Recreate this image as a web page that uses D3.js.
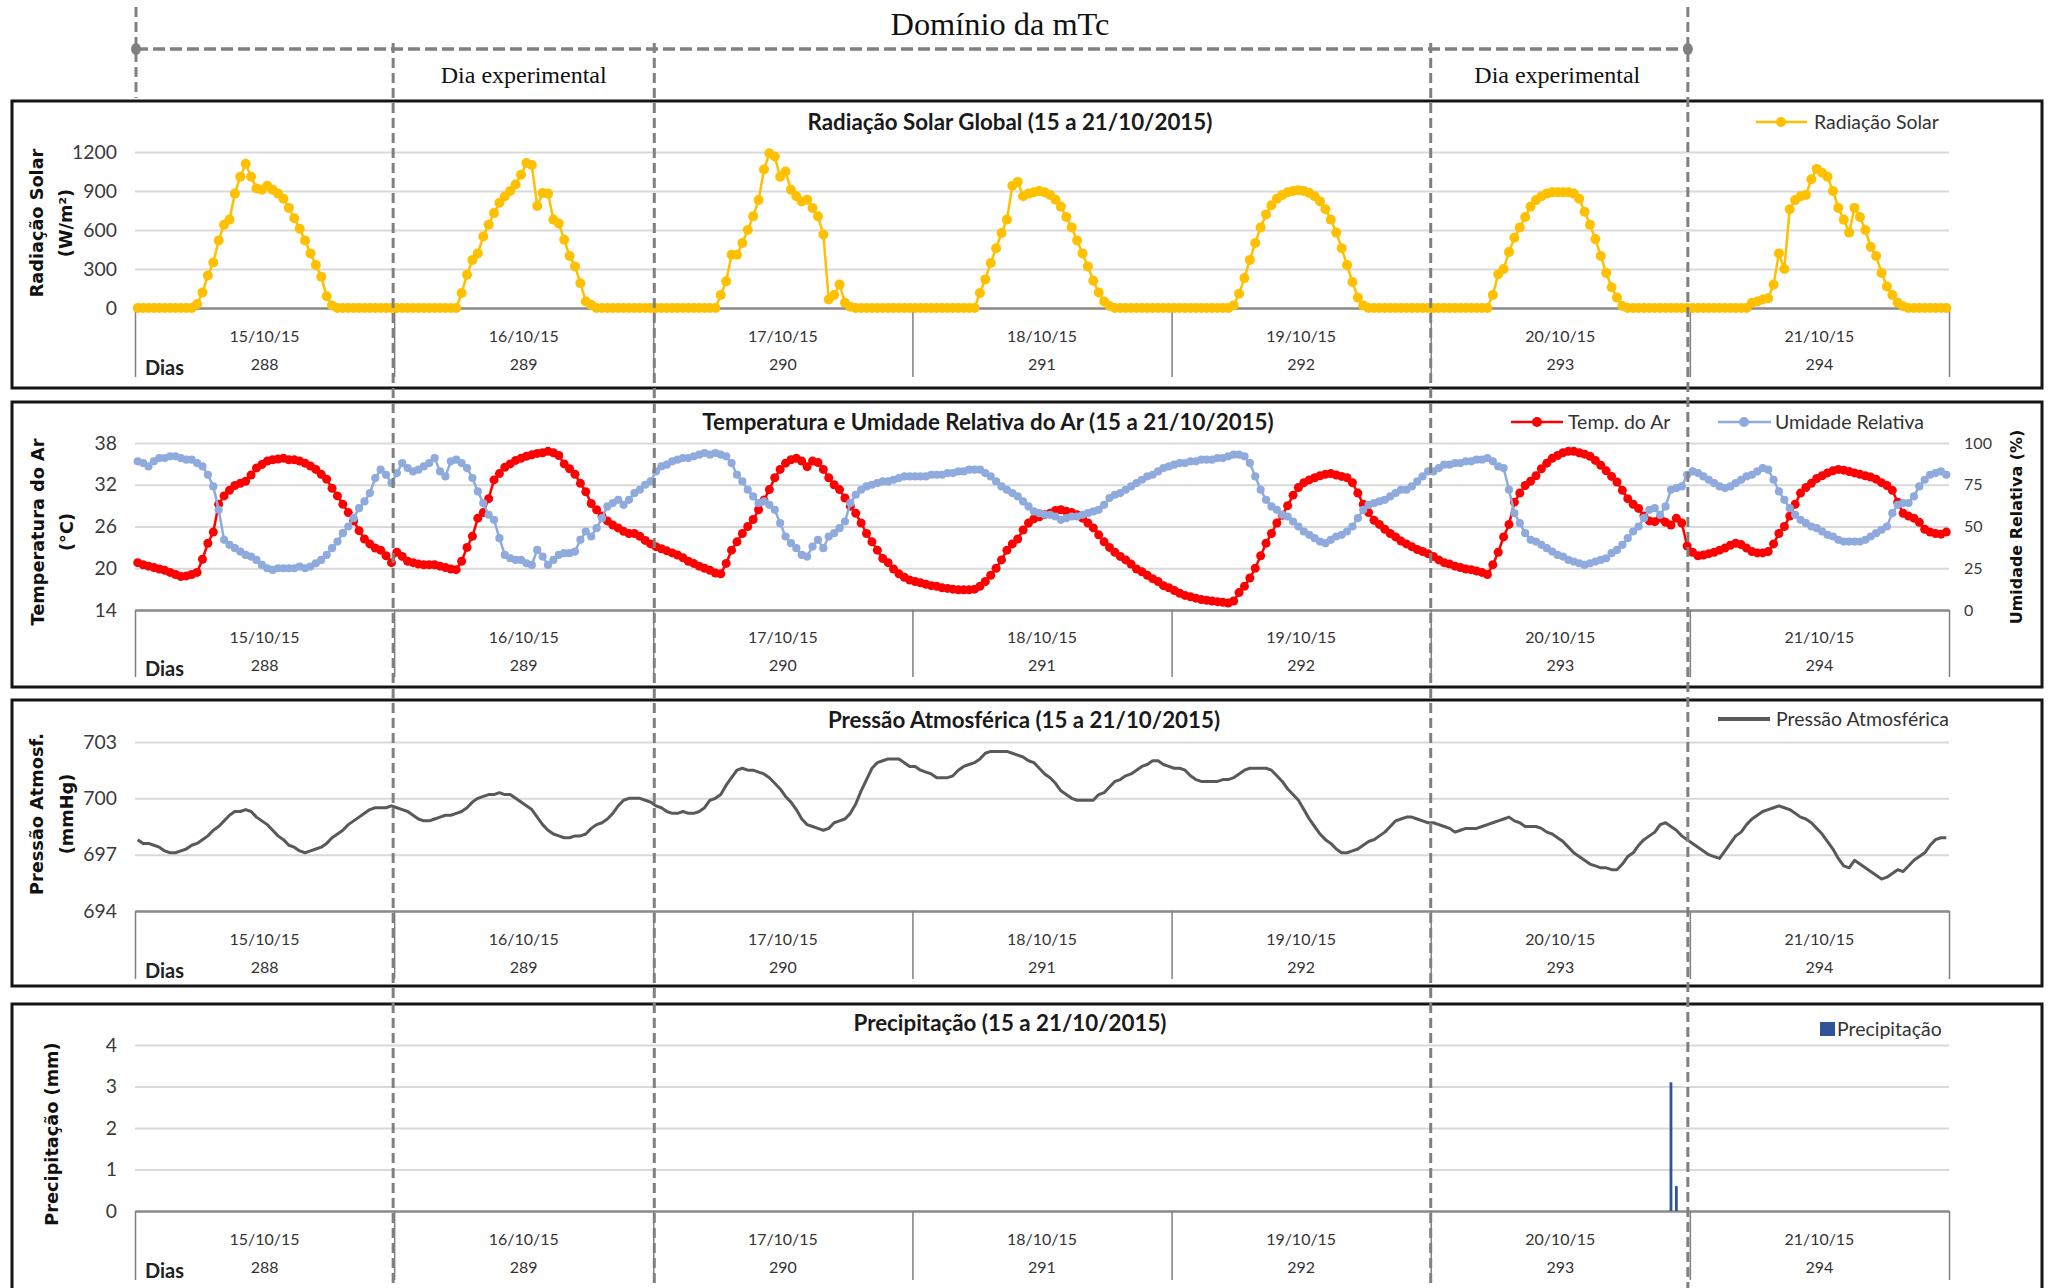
<!DOCTYPE html>
<html><head><meta charset="utf-8">
<script src="https://cdn.jsdelivr.net/npm/d3@7"></script>
<style>body{margin:0;background:#fff}svg{display:block}</style>
</head><body>
<svg id="c" width="2053" height="1288"></svg>
<script>
// ---------------- DATA ----------------
const dayLabels = ["15/10/15","16/10/15","17/10/15","18/10/15","19/10/15","20/10/15","21/10/15"];
const dayNumbers = ["288","289","290","291","292","293","294"];
const solarTicks = [0,300,600,900,1200];
const tempTicks = [14,20,26,32,38];
const rhTicks = [0,25,50,75,100];
const presTicks = [694,697,700,703];
const rainTicks = [0,1,2,3,4];

// half-hourly values, 48 per day
const solar = [
 /*288*/ 0,0,0,0,0,0,0,0,0,0,0,30,120,250,350,520,640,680,880,1010,1110,1010,920,910,940,910,880,840,770,690,610,520,420,330,240,90,20,0,0,0,0,0,0,0,0,0,0,0,
 /*289*/ 0,0,0,0,0,0,0,0,0,0,0,0,115,256,370,420,550,640,730,810,860,900,950,1025,1115,1100,785,885,880,680,650,525,400,320,190,50,25,0,0,0,0,0,0,0,0,0,0,0,
 /*290*/ 0,0,0,0,0,0,0,0,0,0,0,0,100,205,410,410,500,600,705,830,1065,1190,1165,1010,1050,910,860,820,833,770,705,565,65,100,180,40,10,0,0,0,0,0,0,0,0,0,0,0,
 /*291*/ 0,0,0,0,0,0,0,0,0,0,0,0,115,220,346,460,577,680,940,970,860,880,890,900,890,870,833,780,700,620,520,420,320,210,120,50,15,0,0,0,0,0,0,0,0,0,0,0,
 /*292*/ 0,0,0,0,0,0,0,0,0,0,0,20,110,230,370,500,620,720,790,840,870,890,900,905,900,885,860,820,760,680,580,460,330,200,80,20,0,0,0,0,0,0,0,0,0,0,0,0,
 /*293*/ 0,0,0,0,0,0,0,0,0,0,0,100,260,300,430,540,620,700,780,830,860,880,890,890,890,890,880,840,740,640,530,400,270,160,80,15,0,0,0,0,0,0,0,0,0,0,0,0,
 /*294*/ 0,0,0,0,0,0,0,0,0,0,0,40,50,65,75,180,420,300,760,830,860,870,990,1070,1040,1010,900,770,680,580,770,700,600,470,400,270,165,100,40,13,0,0,0,0,0,0,0,0
];
const airTemp = [
 /*288*/ 20.8,20.5,20.3,20.1,19.9,19.7,19.4,19.1,18.8,18.9,19.1,19.4,21.3,23.6,25.2,29.2,30.4,31.2,31.9,32.2,32.5,33.4,34.4,34.9,35.4,35.6,35.7,35.8,35.6,35.6,35.4,35.1,34.7,34.2,33.5,32.8,31.5,30.4,29.2,28.0,26.8,25.4,24.2,23.5,22.9,22.6,21.8,20.8,
 /*289*/ 22.3,21.7,21.0,20.8,20.6,20.5,20.5,20.5,20.3,20.1,19.9,19.8,21.0,23.0,24.6,27.2,28.0,30.0,32.7,33.6,34.5,35.0,35.5,35.8,36.1,36.3,36.5,36.6,36.8,36.6,36.2,35.0,34.3,33.5,32.2,31.0,29.3,28.4,27.5,26.8,26.2,25.8,25.3,25.0,25.0,24.6,24.0,23.5,
 /*290*/ 23.1,22.8,22.5,22.2,21.9,21.5,21.0,20.7,20.3,20.0,19.7,19.3,19.2,20.7,22.6,23.8,25.0,26.0,27.0,28.4,29.8,31.3,33.0,34.2,35.1,35.6,35.8,35.4,34.6,35.4,35.2,34.2,33.0,32.0,31.3,30.1,28.9,27.9,26.5,25.0,23.8,22.6,21.4,20.8,19.9,19.2,18.7,18.3,
 /*291*/ 18.1,17.9,17.7,17.5,17.4,17.2,17.1,17.0,16.9,16.9,16.9,17.0,17.4,18.1,19.0,20.0,21.2,22.6,23.5,24.2,25.5,26.5,27.1,27.4,27.7,27.9,28.3,28.4,28.2,28.0,27.7,27.2,26.5,25.8,24.8,23.8,23.0,22.3,21.7,21.2,20.6,19.9,19.5,19.0,18.5,18.1,17.5,17.2,
 /*292*/ 16.8,16.4,16.1,15.9,15.7,15.5,15.4,15.3,15.2,15.1,15.0,15.3,16.5,17.4,18.6,20.0,21.8,23.6,25.0,26.5,27.6,29.0,30.5,31.6,32.3,32.7,33.0,33.3,33.5,33.6,33.4,33.2,33.0,32.3,30.8,29.2,28.0,26.9,26.3,25.6,25.0,24.5,23.9,23.5,23.1,22.7,22.4,22.1,
 /*293*/ 21.7,21.2,20.8,20.6,20.3,20.1,19.9,19.8,19.6,19.4,19.1,20.5,22.3,24.5,26.3,29.5,30.8,31.9,32.5,33.3,34.3,35.1,35.8,36.2,36.6,36.8,36.8,36.6,36.4,36.1,35.5,34.8,34.0,33.2,32.4,31.2,30.0,29.2,28.6,27.5,26.8,26.7,27.2,26.6,26.2,27.2,26.5,23.2,
 /*294*/ 22.3,21.8,21.9,22.1,22.3,22.6,22.9,23.3,23.6,23.4,22.9,22.4,22.2,22.2,22.4,23.5,25.0,26.0,27.5,29.2,30.8,31.6,32.2,32.9,33.3,33.7,34.0,34.2,34.1,33.9,33.7,33.5,33.3,33.1,32.8,32.3,31.9,31.2,29.5,27.9,27.5,27.2,26.6,25.6,25.2,25.0,24.9,25.2
];
const relHum = [
 /*288*/ 89,88,86,89,91,91,92,92,91,90,90,88,86,81,74,60,42,39,37,35,33,32,30,27,25,24,25,25,25,25,26,25,26,28,30,33,37,41,46,50,55,61,65,70,79,84,81,76,
 /*289*/ 82,88,85,83,84,86,88,91,83,80,89,90,88,85,79,71,64,57,54,43,33,31,30,30,28,27,36,32,27,30,33,34,34,35,42,47,44,49,55,62,64,66,63,66,70,72,75,77,
 /*290*/ 83,86,87,89,90,91,91,92,93,94,93,94,93,92,88,81,77,72,68,64,65,63,60,52,44,40,37,33,32,38,42,37,44,46,49,53,64,69,72,74,75,76,77,77,78,79,80,80,
 /*291*/ 80,80,80,81,81,81,82,82,83,83,84,84,84,82,80,77,74,72,70,68,65,62,59,58,57,57,56,54,55,56,56,57,58,59,60,63,67,69,70,72,74,76,78,80,81,83,85,86,
 /*292*/ 87,88,88,89,89,90,90,90,91,91,92,93,93,92,88,80,72,66,62,60,57,56,53,50,47,45,43,41,40,42,44,45,47,50,55,60,63,64,65,66,68,70,72,72,74,77,80,83,
 /*293*/ 83,85,87,87,88,88,89,89,90,90,91,89,86,85,72,58,52,46,42,41,39,37,35,33,32,30,29,28,27,28,29,30,31,34,36,39,43,47,50,55,60,61,57,62,72,73,74,81,
 /*294*/ 83,82,80,78,76,74,73,74,76,78,80,81,83,85,84,78,71,66,61,57,54,52,50,49,47,45,44,42,41,41,41,41,42,44,46,48,50,58,63,64,64,68,74,78,81,82,83,81
];
const pressure = [
 /*288*/ 697.8,697.6,697.6,697.5,697.4,697.2,697.1,697.1,697.2,697.3,697.5,697.6,697.8,698.0,698.3,698.5,698.8,699.1,699.3,699.3,699.4,699.3,699.0,698.8,698.6,698.3,698.0,697.8,697.5,697.4,697.2,697.1,697.2,697.3,697.4,697.6,697.9,698.1,698.3,698.6,698.8,699.0,699.2,699.4,699.5,699.5,699.5,699.6,
 /*289*/ 699.5,699.4,699.3,699.1,698.9,698.8,698.8,698.9,699.0,699.1,699.1,699.2,699.3,699.5,699.8,700.0,700.1,700.2,700.2,700.3,700.2,700.2,700.0,699.8,699.6,699.4,699.0,698.6,698.3,698.1,698.0,697.9,697.9,698.0,698.0,698.1,698.4,698.6,698.7,698.9,699.2,699.6,699.9,700.0,700.0,700.0,699.9,699.8,
 /*290*/ 699.6,699.5,699.3,699.2,699.2,699.3,699.2,699.2,699.3,699.5,699.9,700.0,700.2,700.7,701.1,701.5,701.6,701.5,701.5,701.4,701.3,701.1,700.8,700.5,700.1,699.8,699.4,698.9,698.6,698.5,698.4,698.3,698.4,698.7,698.8,698.9,699.2,699.7,700.4,701.0,701.6,701.9,702.0,702.1,702.1,702.1,701.9,701.7,
 /*291*/ 701.7,701.5,701.4,701.3,701.1,701.1,701.1,701.2,701.5,701.7,701.8,701.9,702.1,702.4,702.5,702.5,702.5,702.5,702.4,702.3,702.2,702.0,701.9,701.6,701.3,701.1,700.8,700.4,700.2,700.0,699.9,699.9,699.9,699.9,700.2,700.3,700.6,700.9,701.0,701.2,701.3,701.5,701.7,701.8,702.0,702.0,701.8,701.7,
 /*292*/ 701.6,701.6,701.5,701.2,701.0,700.9,700.9,700.9,700.9,701.0,701.0,701.1,701.3,701.5,701.6,701.6,701.6,701.6,701.5,701.2,700.9,700.5,700.2,699.9,699.4,698.9,698.5,698.1,697.8,697.6,697.3,697.1,697.1,697.2,697.3,697.5,697.7,697.8,698.0,698.2,698.5,698.8,698.9,699.0,699.0,698.9,698.8,698.7,
 /*293*/ 698.7,698.6,698.5,698.4,698.2,698.3,698.4,698.4,698.4,698.5,698.6,698.7,698.8,698.9,699.0,698.8,698.7,698.5,698.5,698.5,698.4,698.2,698.1,697.9,697.7,697.4,697.1,696.9,696.7,696.5,696.4,696.3,696.3,696.2,696.2,696.5,696.9,697.1,697.5,697.8,698.0,698.2,698.6,698.7,698.5,698.3,698.0,697.8,
 /*294*/ 697.6,697.4,697.2,697.0,696.9,696.8,697.2,697.6,698.0,698.2,698.6,698.9,699.1,699.3,699.4,699.5,699.6,699.5,699.4,699.2,699.0,698.9,698.7,698.4,698.1,697.7,697.3,696.8,696.4,696.3,696.7,696.5,696.3,696.1,695.9,695.7,695.8,696.0,696.2,696.1,696.4,696.7,696.9,697.1,697.5,697.8,697.9,697.9
];
// rainfall: only non-zero half-hours (index into the 336 half-hours)
const rainIndex = [284, 285];
const rainMm = [3.1, 0.6];

// ---------------- DRAWING ----------------
const SANS = "Lato, 'Open Sans', sans-serif";
const SERIF = "'Liberation Serif', 'Times New Roman', serif";
const GOTH = "'DejaVu Sans', sans-serif";
const svg = d3.select("#c");
const L = 135, R = 1949;
const N = solar.length;
const xi = d3.scaleLinear().domain([0, N]).range([L, R]);
const px = i => xi(i + 0.5);
const xDay = d3.scaleLinear().domain([0, 7]).range([L, R]);

function fit(str, fam, wt, target) {
  const t = svg.append("text").attr("font-family", fam).attr("font-weight", wt).attr("font-size", 100).text(str);
  const w = t.node().getComputedTextLength(); t.remove();
  return 100 * target / w;
}
const tickFS = fit("1200", SANS, 400, 45);
const rhFS = fit("100", SANS, 400, 28);
const catFS = fit("15/10/15", SANS, 400, 70);
const diasFS = fit("Dias", SANS, 700, 39);
const titleFS = fit("Radiação Solar Global (15 a 21/10/2015)", SANS, 700, 405);
const legFS = fit("Radiação Solar", SANS, 400, 125);
const axFS = fit("Temperatura do Ar", GOTH, 700, 187);
const domFS = fit("Domínio da mTc", SERIF, 400, 219);
const expFS = fit("Dia experimental", SERIF, 400, 166);

const panels = [
  {top:101, bottom:388, y0:308, y1:152, dom:[0,1200], ticks:solarTicks, title:"Radiação Solar Global (15 a 21/10/2015)", tx:1010, ty:122, l1:336, l2:364, sepB:377,
   ytitle:["Radiação Solar","(W/m²)"], ytx:[37,66], yty:223},
  {top:402, bottom:687, y0:610, y1:443, dom:[14,38], ticks:tempTicks, title:"Temperatura e Umidade Relativa do Ar (15 a 21/10/2015)", tx:988, ty:422, l1:637, l2:665, sepB:677,
   ytitle:["Temperatura do Ar","(°C)"], ytx:[38,67], yty:532},
  {top:700, bottom:986, y0:911, y1:742, dom:[694,703], ticks:presTicks, title:"Pressão Atmosférica (15 a 21/10/2015)", tx:1024, ty:720, l1:939, l2:967, sepB:979,
   ytitle:["Pressão Atmosf.","(mmHg)"], ytx:[37,67], yty:814},
  {top:1004, bottom:1310, y0:1211, y1:1045, dom:[0,4], ticks:rainTicks, title:"Precipitação (15 a 21/10/2015)", tx:1010, ty:1023, l1:1239, l2:1267, sepB:1280,
   ytitle:["Precipitação (mm)"], ytx:[52], yty:1134}
];

const scales = [];
panels.forEach(p => {
  const g = svg.append("g");
  g.append("rect").attr("x", 12).attr("y", p.top).attr("width", 2030).attr("height", p.bottom - p.top)
    .attr("fill", "#fff").attr("stroke", "#151515").attr("stroke-width", 3);
  const y = d3.scaleLinear().domain(p.dom).range([p.y0, p.y1]);
  scales.push(y);
  // gridlines
  g.append("g").attr("transform", `translate(${L},0)`)
    .call(d3.axisLeft(y).tickValues(p.ticks).tickSize(-(R - L)).tickFormat(""))
    .call(s => s.select(".domain").remove())
    .selectAll("line").attr("stroke", "#d9d9d9").attr("stroke-width", 2);
  // tick labels
  g.append("g").attr("transform", `translate(${L},0)`)
    .call(d3.axisLeft(y).tickValues(p.ticks).tickSize(0).tickPadding(18).tickFormat(d3.format("d")))
    .call(s => s.select(".domain").remove())
    .selectAll("text").attr("font-family", SANS).attr("font-size", tickFS).attr("fill", "#3a3a3a");
  // category axis
  const ca = g.append("g").attr("transform", `translate(0,${p.y0})`)
    .call(d3.axisBottom(xDay).tickValues(d3.range(8)).tickSize(p.sepB - p.y0).tickSizeOuter(0).tickFormat(""));
  ca.select(".domain").attr("stroke", "#8c8c8c").attr("stroke-width", 2.5);
  ca.selectAll(".tick line").attr("stroke", "#808080").attr("stroke-width", 1.5);
  g.selectAll(null).data(dayLabels).join("text")
    .attr("x", (d, i) => xDay(i + 0.5)).attr("y", p.l1).attr("dy", "0.35em")
    .attr("text-anchor", "middle").attr("font-family", SANS).attr("font-size", catFS).attr("fill", "#333").text(d => d);
  g.selectAll(null).data(dayNumbers).join("text")
    .attr("x", (d, i) => xDay(i + 0.5)).attr("y", p.l2).attr("dy", "0.35em")
    .attr("text-anchor", "middle").attr("font-family", SANS).attr("font-size", catFS).attr("fill", "#333").text(d => d);
  g.append("text").attr("x", 145).attr("y", p.l2 + 4).attr("dy", "0.35em")
    .attr("font-family", SANS).attr("font-weight", 700).attr("font-size", diasFS).attr("fill", "#222").text("Dias");
  // title
  g.append("text").attr("x", p.tx).attr("y", p.ty).attr("dy", "0.35em").attr("text-anchor", "middle")
    .attr("font-family", SANS).attr("font-weight", 700).attr("font-size", titleFS).attr("fill", "#1a1a1a").text(p.title);
  // y titles
  p.ytitle.forEach((t, k) => {
    g.append("text").attr("transform", `translate(${p.ytx[k]},${p.yty}) rotate(-90)`).attr("dy", "0.35em")
      .attr("text-anchor", "middle").attr("font-family", GOTH).attr("font-weight", 700).attr("font-size", axFS)
      .attr("fill", "#111").text(t);
  });
});

// ---- Panel 1: solar ----
{
  const y = scales[0];
  const line = d3.line().x((d, i) => px(i)).y(d => y(d));
  svg.append("path").datum(solar).attr("d", line).attr("fill", "none").attr("stroke", "#ffc000").attr("stroke-width", 2.5);
  svg.append("g").selectAll("circle").data(solar).join("circle")
    .attr("cx", (d, i) => px(i)).attr("cy", d => y(d)).attr("r", 5).attr("fill", "#ffc000");
  const lg = svg.append("g");
  lg.append("line").attr("x1", 1756).attr("x2", 1807).attr("y1", 122).attr("y2", 122).attr("stroke", "#ffc000").attr("stroke-width", 2.5);
  lg.append("circle").attr("cx", 1781).attr("cy", 122).attr("r", 5).attr("fill", "#ffc000");
  lg.append("text").attr("x", 1814).attr("y", 122).attr("dy", "0.35em").attr("font-family", SANS).attr("font-size", legFS).attr("fill", "#333").text("Radiação Solar");
}

// ---- Panel 2: temperature + RH ----
{
  const y = scales[1];
  const yRH = d3.scaleLinear().domain([0, 100]).range([610, 443]);
  svg.append("g").attr("transform", `translate(${R},0)`)
    .call(d3.axisRight(yRH).tickValues(rhTicks).tickSize(0).tickPadding(15))
    .call(s => s.select(".domain").remove())
    .selectAll("text").attr("font-family", SANS).attr("font-size", rhFS).attr("fill", "#3a3a3a");
  svg.append("text").attr("transform", "translate(2016,527) rotate(-90)").attr("dy", "0.35em").attr("text-anchor", "middle")
    .attr("font-family", GOTH).attr("font-weight", 700).attr("font-size", axFS * 0.9).attr("fill", "#111").text("Umidade Relativa (%)");

  const lt = d3.line().x((d, i) => px(i)).y(d => y(d));
  svg.append("path").datum(airTemp).attr("d", lt).attr("fill", "none").attr("stroke", "#ff0000").attr("stroke-width", 2.5);
  svg.append("g").selectAll("circle").data(airTemp).join("circle")
    .attr("cx", (d, i) => px(i)).attr("cy", d => y(d)).attr("r", 4.5).attr("fill", "#ff0000");
  const lh = d3.line().x((d, i) => px(i)).y(d => yRH(d));
  svg.append("path").datum(relHum).attr("d", lh).attr("fill", "none").attr("stroke", "#8faadc").attr("stroke-width", 2.5);
  svg.append("g").selectAll("circle").data(relHum).join("circle")
    .attr("cx", (d, i) => px(i)).attr("cy", d => yRH(d)).attr("r", 4.1).attr("fill", "#8faadc");

  const lg = svg.append("g");
  lg.append("line").attr("x1", 1511).attr("x2", 1563).attr("y1", 422).attr("y2", 422).attr("stroke", "#ff0000").attr("stroke-width", 2.5);
  lg.append("circle").attr("cx", 1537).attr("cy", 422).attr("r", 5).attr("fill", "#ff0000");
  lg.append("text").attr("x", 1568).attr("y", 422).attr("dy", "0.35em").attr("font-family", SANS).attr("font-size", legFS).attr("fill", "#333").text("Temp. do Ar");
  lg.append("line").attr("x1", 1718).attr("x2", 1771).attr("y1", 422).attr("y2", 422).attr("stroke", "#8faadc").attr("stroke-width", 2.5);
  lg.append("circle").attr("cx", 1744).attr("cy", 422).attr("r", 5).attr("fill", "#8faadc");
  lg.append("text").attr("x", 1775).attr("y", 422).attr("dy", "0.35em").attr("font-family", SANS).attr("font-size", legFS).attr("fill", "#333").text("Umidade Relativa");
}

// ---- Panel 3: pressure ----
{
  const y = scales[2];
  const lp = d3.line().x((d, i) => px(i)).y(d => y(d));
  svg.append("path").datum(pressure).attr("d", lp).attr("fill", "none").attr("stroke", "#595959").attr("stroke-width", 3).attr("stroke-linejoin", "round");
  svg.append("line").attr("x1", 1718).attr("x2", 1770).attr("y1", 719).attr("y2", 719).attr("stroke", "#595959").attr("stroke-width", 4);
  svg.append("text").attr("x", 1776).attr("y", 719).attr("dy", "0.35em").attr("font-family", SANS).attr("font-size", legFS).attr("fill", "#333").text("Pressão Atmosférica");
}

// ---- Panel 4: rainfall ----
{
  const y = scales[3];
  svg.append("g").selectAll("rect").data(rainIndex).join("rect")
    .attr("x", d => px(d) - 1.4).attr("width", 2.8)
    .attr("y", (d, k) => y(rainMm[k])).attr("height", (d, k) => y(0) - y(rainMm[k]))
    .attr("fill", "#2f5597");
  svg.append("rect").attr("x", 1820).attr("y", 1022).attr("width", 15).attr("height", 14).attr("fill", "#2f5597");
  svg.append("text").attr("x", 1837).attr("y", 1029).attr("dy", "0.35em").attr("font-family", SANS).attr("font-size", legFS).attr("fill", "#333").text("Precipitação");
}

// ---- dashed overlay (mTc domain, experimental days) ----
{
  const o = svg.append("g").attr("stroke", "#808080").attr("stroke-width", 3).attr("stroke-dasharray", "10,5").attr("fill", "none");
  o.append("line").attr("x1", 136).attr("x2", 136).attr("y1", 7).attr("y2", 98);
  [[xDay(1) - 1, 43], [xDay(2) + 1, 43], [xDay(5), 43], [xDay(6) - 2, 7]].forEach(([xx, y1]) => {
    o.append("line").attr("x1", xx).attr("x2", xx).attr("y1", y1).attr("y2", 1288);
  });
  o.append("line").attr("x1", 136).attr("x2", xDay(6) - 2).attr("y1", 49).attr("y2", 49).attr("stroke-width", 3.3).attr("stroke-dasharray", "12,5");
  svg.append("ellipse").attr("cx", 136).attr("cy", 49).attr("rx", 5).attr("ry", 6).attr("fill", "#808080");
  svg.append("ellipse").attr("cx", xDay(6) - 2).attr("cy", 49).attr("rx", 5).attr("ry", 6).attr("fill", "#808080");
  svg.append("text").attr("x", 1000).attr("y", 35).attr("text-anchor", "middle").attr("font-family", SERIF).attr("font-size", domFS).attr("fill", "#111").text("Domínio da mTc");
  svg.append("text").attr("x", (xDay(1) + xDay(2)) / 2).attr("y", 83).attr("text-anchor", "middle").attr("font-family", SERIF).attr("font-size", expFS).attr("fill", "#111").text("Dia experimental");
  svg.append("text").attr("x", (xDay(5) + xDay(6)) / 2 - 3).attr("y", 83).attr("text-anchor", "middle").attr("font-family", SERIF).attr("font-size", expFS).attr("fill", "#111").text("Dia experimental");
}
</script>
</body></html>
